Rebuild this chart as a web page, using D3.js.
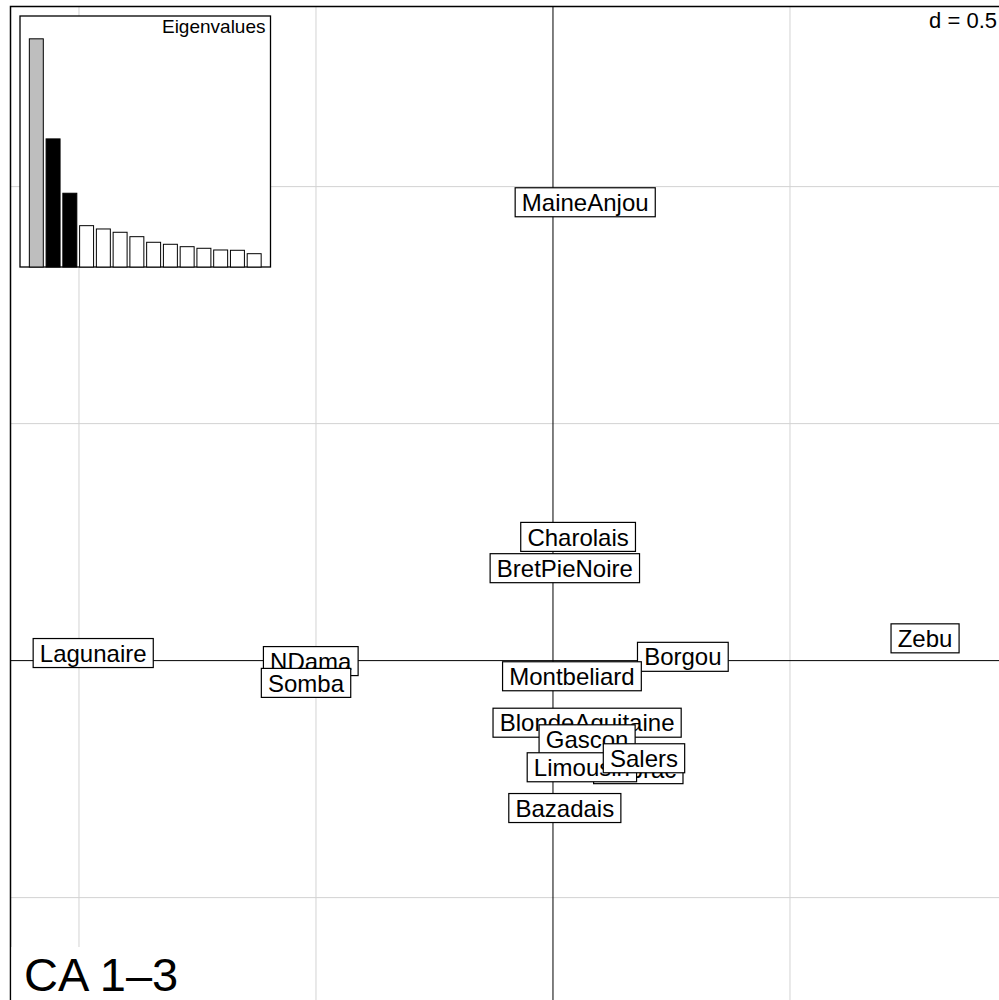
<!DOCTYPE html>
<html>
<head>
<meta charset="utf-8">
<script src="https://cdn.jsdelivr.net/npm/d3@7"></script>
<style>
  body { margin: 0; background: #fff; }
  svg { display: block; font-family: "Liberation Sans", Arial, sans-serif; }
  .grid_line { stroke: #d3d3d3; stroke-width: 1; }
  .axis_line { stroke: #000; stroke-width: 1; }
</style>
</head>
<body>
<svg id="canvas" width="999" height="1000"></svg>
<script>
// ************************************************************************************** //
// Data

var breeds = ['Lagunaire', 'NDama', 'Somba', 'Borgou', 'Zebu', 'Aubrac', 'Bazadais', 'BlondeAquitaine',
              'BretPieNoire', 'Charolais', 'Gascon', 'Limousin', 'MaineAnjou', 'Montbeliard', 'Salers'];
var axis1 = [-0.970, -0.511, -0.521, 0.274, 0.785, 0.180, 0.025, 0.072, 0.025, 0.053, 0.072, 0.061, 0.068, 0.040, 0.192];
var axis3 = [0.016, -0.001, -0.047, 0.008, 0.047, -0.229, -0.311, -0.131, 0.195, 0.261, -0.166, -0.225, 0.967, -0.033, -0.206];
var eigenvalues = [0.228, 0.128, 0.0737, 0.0413, 0.038, 0.0347, 0.0303, 0.0247, 0.0227, 0.0203, 0.0187, 0.017, 0.0167, 0.0133];
var eig_fill = ['#bebebe', '#000', '#000', '#fff', '#fff', '#fff', '#fff', '#fff', '#fff', '#fff', '#fff', '#fff', '#fff', '#fff'];
var grid_step = 0.5;
var title_text = 'CA 1\u20133';

// ************************************************************************************** //
// Scales

var svg = d3.select('#canvas');
var x = d3.scaleLinear().domain([-1.1445, 0.941]).range([10.5, 999]);
var y = d3.scaleLinear().domain([1.380, -0.716]).range([6.5, 1000]);

var g = svg.append('g');

// Grid
var x_ticks = d3.range(Math.ceil(x.domain()[0]/grid_step), Math.floor(x.domain()[1]/grid_step)+1).map(function(k){ return k*grid_step; });
var y_ticks = d3.range(Math.ceil(y.domain()[1]/grid_step), Math.floor(y.domain()[0]/grid_step)+1).map(function(k){ return k*grid_step; });

x_ticks.forEach(function(t){
  if(t == 0) return;
  g.append('line').attr('class', 'grid_line').attr('x1', x(t)).attr('x2', x(t)).attr('y1', y.range()[0]).attr('y2', y.range()[1]);
});
y_ticks.forEach(function(t){
  if(t == 0) return;
  g.append('line').attr('class', 'grid_line').attr('y1', y(t)).attr('y2', y(t)).attr('x1', x.range()[0]).attr('x2', x.range()[1]);
});

// Axes through origin
g.append('line').attr('class', 'axis_line').attr('x1', x.range()[0]).attr('x2', x.range()[1]).attr('y1', y(0)).attr('y2', y(0));
g.append('line').attr('class', 'axis_line').attr('x1', x(0)).attr('x2', x(0)).attr('y1', y.range()[0]).attr('y2', y.range()[1]);

// ************************************************************************************** //
// Labels with boxes

var lab_size = 24;
var lab_h = 29;
breeds.forEach(function(name, i){
  var cx = x(axis1[i]), cy = y(axis3[i]);
  var lg = g.append('g');
  var r = lg.append('rect');
  var t = lg.append('text').attr('x', cx).attr('y', cy + 0.36*lab_size)
    .attr('text-anchor', 'middle').style('font-size', lab_size + 'px').text(name);
  var w = t.node().getComputedTextLength() + 2*0.278*lab_size;
  r.attr('x', cx - w/2).attr('y', cy - lab_h/2).attr('width', w).attr('height', lab_h)
    .attr('fill', '#fff').attr('stroke', '#000').attr('stroke-width', 1.2);
});

// Frame
g.append('rect').attr('x', 10.5).attr('y', 6.5).attr('width', 1100).attr('height', 1100)
  .attr('fill', 'none').attr('stroke', '#000').attr('stroke-width', 1.5);

// Scale legend
var d_txt = g.append('text').attr('x', 997).attr('y', 28).attr('text-anchor', 'end')
  .style('font-size', '22px').text('d = ' + grid_step);
var bb = d_txt.node().getBBox();
g.insert('rect', function(){ return d_txt.node(); })
  .attr('x', bb.x - 4).attr('y', 8).attr('width', bb.width + 8).attr('height', bb.height + 2).attr('fill', '#fff');

// Title
g.append('rect').attr('x', 11.5).attr('y', 947).attr('width', 185).attr('height', 60).attr('fill', '#fff');
g.append('text').attr('x', 24).attr('y', 991).style('font-size', '47px').text(title_text);

// ************************************************************************************** //
// Eigenvalues inset

var inset = { x0: 20, x1: 270.5, y0: 16, y1: 267 };
var eg = g.append('g');
eg.append('rect').attr('x', inset.x0).attr('y', inset.y0).attr('width', inset.x1 - inset.x0).attr('height', inset.y1 - inset.y0)
  .attr('fill', '#fff').attr('stroke', '#000').attr('stroke-width', 1.3);

var ex = d3.scaleBand().domain(d3.range(eigenvalues.length)).range([inset.x0, inset.x1]).paddingInner(1/6).paddingOuter(0.557);
var ey = d3.scaleLinear().domain([0, d3.max(eigenvalues)*1.1]).range([inset.y1, inset.y0]);

eg.selectAll('.eig_bar').data(eigenvalues).enter().append('rect')
  .attr('class', 'eig_bar')
  .attr('x', function(d, i){ return ex(i); })
  .attr('y', function(d){ return ey(d); })
  .attr('width', ex.bandwidth())
  .attr('height', function(d){ return ey(0) - ey(d); })
  .attr('fill', function(d, i){ return eig_fill[i]; })
  .attr('stroke', '#000').attr('stroke-width', 1);

eg.append('text').attr('x', inset.x1 - 5).attr('y', 33).attr('text-anchor', 'end')
  .style('font-size', '19px').text('Eigenvalues');
</script>
</body>
</html>
